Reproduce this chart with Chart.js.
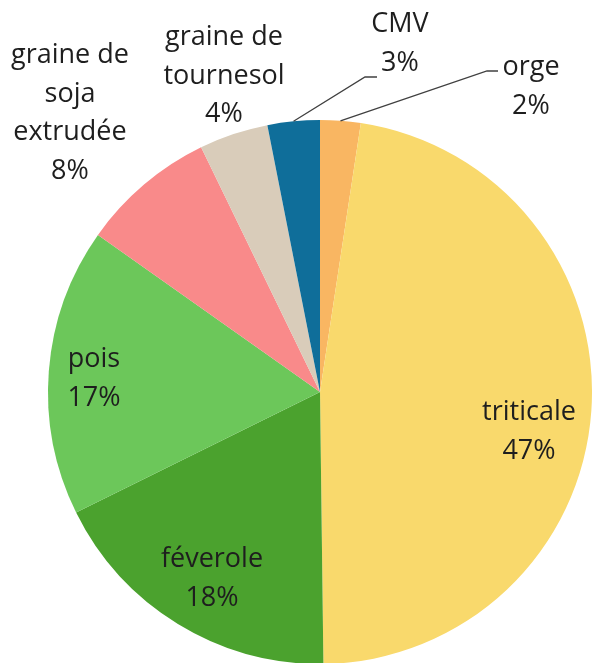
<!DOCTYPE html>
<html>
<head>
<meta charset="utf-8">
<script src="https://cdn.jsdelivr.net/npm/chart.js@4/dist/chart.umd.min.js"></script>
<style>
  html, body { margin: 0; padding: 0; background: #fff; overflow: hidden; }
  #wrap { width: 592px; height: 663px; overflow: hidden; }
</style>
</head>
<body>
<div id="wrap"><canvas id="pie" width="592" height="664"></canvas></div>
<script>
// parts of the ration, clockwise from 12 o'clock
const categories = ['orge', 'triticale', 'féverole', 'pois', 'graine de soja extrudée', 'graine de tournesol', 'CMV'];
const shares = [2.4, 47.4, 17.9, 17.1, 8.0, 4.1, 3.1];
const sliceColors = ['#F9B662', '#F9D96C', '#4BA22E', '#6CC75A', '#F98A8A', '#D9CCBA', '#0F6E9A'];

// where each label sits (x centre, baseline of first line) and if it needs a leader line
const labelPlaces = [
  { x: 531, y: 75, leader: [[498, 71], [487, 71]] },
  { x: 529, y: 420 },
  { x: 212, y: 567 },
  { x: 94, y: 367 },
  { x: 70, y: 63 },
  { x: 224, y: 45 },
  { x: 400, y: 32, leader: [[377, 77], [365, 77]] }
];

const FONT = '27px "Open Sans"';
const LINE_H = 38.5;

function wrapText(ctx, text, maxWidth) {
  let words = text.split(' ');
  let lines = [];
  let cur = '';
  words.forEach(w => {
    let test = cur ? cur + ' ' + w : w;
    if (cur && ctx.measureText(test).width > maxWidth) {
      lines.push(cur);
      cur = w;
    } else {
      cur = test;
    }
  });
  if (cur) lines.push(cur);
  return lines;
}

const sliceLabels = {
  id: 'sliceLabels',
  afterDraw(chart) {
    const ctx = chart.ctx;
    const arcs = chart.getDatasetMeta(0).data;
    const total = shares.reduce((a, b) => a + b, 0);
    ctx.save();
    ctx.font = FONT;
    ctx.fillStyle = '#1e1e1e';
    ctx.textAlign = 'center';
    ctx.textBaseline = 'alphabetic';
    categories.forEach((name, i) => {
      const place = labelPlaces[i];
      const pct = Math.round(shares[i] / total * 100) + '%';
      const lines = wrapText(ctx, name, 150).concat([pct]);
      lines.forEach((ln, k) => ctx.fillText(ln, place.x, place.y + k * LINE_H));

      if (place.leader) {
        // leader goes from the label to the middle of the arc's rim
        const arc = arcs[i];
        const mid = (arc.startAngle + arc.endAngle) / 2;
        const px = arc.x + Math.cos(mid) * arc.outerRadius;
        const py = arc.y + Math.sin(mid) * arc.outerRadius;
        ctx.beginPath();
        ctx.strokeStyle = '#404040';
        ctx.lineWidth = 1.3;
        ctx.moveTo(place.leader[0][0], place.leader[0][1]);
        ctx.lineTo(place.leader[1][0], place.leader[1][1]);
        ctx.lineTo(px, py);
        ctx.stroke();
      }
    });
    ctx.restore();
  }
};

function renderPie() {
  const ctx = document.querySelector('#pie');
  new Chart(ctx, {
    type: 'pie',
    data: {
      labels: categories,
      datasets: [{
        data: shares,
        backgroundColor: sliceColors,
        borderWidth: 0,
        hoverOffset: 0
      }]
    },
    options: {
      responsive: false,
      maintainAspectRatio: false,
      animation: false,
      events: [],
      layout: {
        padding: { left: 48, right: 0, top: 120, bottom: 0 }
      },
      plugins: {
        legend: { display: false },
        tooltip: { enabled: false }
      }
    },
    plugins: [sliceLabels]
  });
}

renderPie();
</script>
</body>
</html>
